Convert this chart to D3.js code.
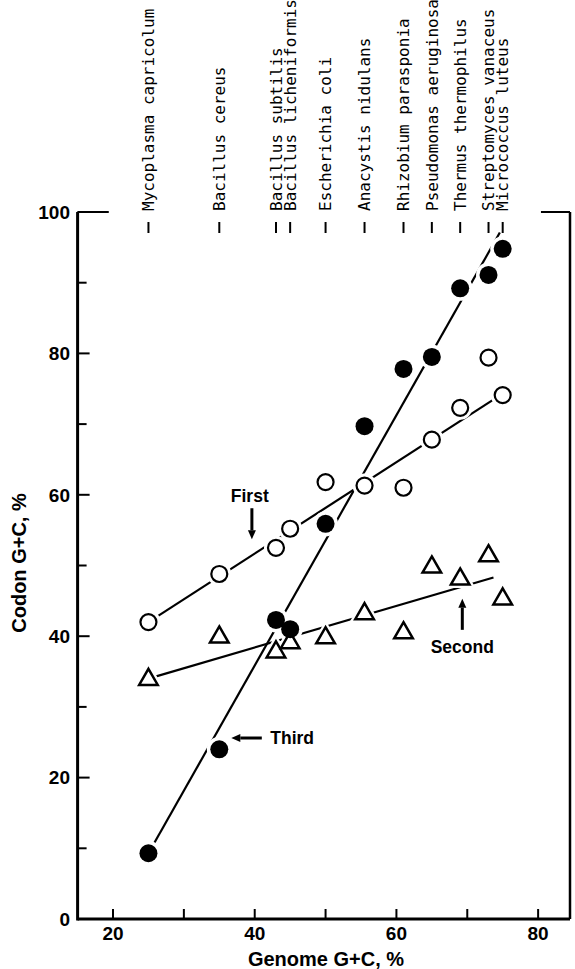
<!DOCTYPE html>
<html lang="en">
<head>
    <meta charset="UTF-8">
    <title>codon-gc</title>
    <script src="https://cdn.jsdelivr.net/npm/d3@7"></script>
    <style>
        body{
            margin: 0;
            background: #fff;
        }
        .species text{
            font-family: "DejaVu Sans Mono", monospace;
            font-size: 16px;
        }
        .lab{
            font-family: "Liberation Sans", Arial, sans-serif;
            font-weight: bold;
        }
    </style>
</head>
<body>
<svg class="graph"></svg>
<script>
    // organisms and their genome G+C (%)
    var species = ["Mycoplasma capricolum", "Bacillus cereus", "Bacillus subtilis", "Bacillus licheniformis",
        "Escherichia coli", "Anacystis nidulans", "Rhizobium parasponia", "Pseudomonas aeruginosa",
        "Thermus thermophilus", "Streptomyces vanaceus", "Micrococcus luteus"];
    var genomeGC = [25, 35, 43, 45, 50, 55.5, 61, 65, 69, 73, 75];

    // codon G+C (%) at each position
    var firstPos  = [42, 48.8, 52.5, 55.2, 61.8, 61.3, 61, 67.8, 72.3, 79.4, 74.1];
    var secondPos = [34, 40, 37.9, 39.2, 39.9, 43.3, 40.6, 49.9, 48.2, 51.5, 45.4];
    var thirdPos  = [9.3, 24, 42.3, 41, 55.9, 69.7, 77.8, 79.5, 89.2, 91.1, 94.8];

    // fitted lines [x, y] end points
    var firstFit  = [[25, 42], [75, 74.3]];
    var secondFit = [[25, 34], [73.7, 48.3]];
    var thirdFit  = [[25, 9.3], [74.6, 97.1]];

    var xTicks = [20, 30, 40, 50, 60, 70, 80];
    var xLabels = [20, 40, 60, 80];
    var yTicks = [0, 10, 20, 30, 40, 50, 60, 70, 80, 90, 100];
    var yLabels = [0, 20, 40, 60, 80, 100];

    var width = 575, height = 969;
    var svg = d3.select('.graph').attr('width', width).attr('height', height);

    var x = d3.scaleLinear().domain([15, 84.5]).range([77.6, 570]);
    var y = d3.scaleLinear().domain([0, 100]).range([919, 212]);

    // frame
    var frame = svg.append('g').attr('stroke', '#000').attr('fill', 'none');
    frame.append('line').attr('x1', x(15)).attr('x2', x(15)).attr('y1', y(100)).attr('y2', y(0) + 1.5).attr('stroke-width', 3);
    frame.append('line').attr('x1', x(15)).attr('x2', x(84.5)).attr('y1', y(0)).attr('y2', y(0)).attr('stroke-width', 3);
    frame.append('line').attr('x1', x(84.5)).attr('x2', x(84.5)).attr('y1', y(100)).attr('y2', y(0)).attr('stroke-width', 2.5);
    frame.append('line').attr('x1', x(15)).attr('x2', x(19.4)).attr('y1', y(100)).attr('y2', y(100)).attr('stroke-width', 2);
    frame.append('line').attr('x1', x(80.4)).attr('x2', x(84.5)).attr('y1', y(100)).attr('y2', y(100)).attr('stroke-width', 2);

    // inward ticks
    frame.selectAll('.xt').data(xTicks).enter().append('line')
        .attr('x1', function (d) { return x(d); }).attr('x2', function (d) { return x(d); })
        .attr('y1', y(0)).attr('y2', y(0) - 10).attr('stroke-width', 2);
    frame.selectAll('.yt').data(yTicks.slice(1)).enter().append('line')
        .attr('x1', x(15)).attr('x2', function (d) { return x(15) + (d % 20 === 0 ? 12 : 9); })
        .attr('y1', function (d) { return y(d); }).attr('y2', function (d) { return y(d); })
        .attr('stroke-width', 2);

    svg.selectAll('.xl').data(xLabels).enter().append('text').attr('class', 'lab')
        .attr('x', function (d) { return x(d); }).attr('y', 940)
        .attr('text-anchor', 'middle').attr('font-size', 19).text(function (d) { return d; });
    svg.selectAll('.yl').data(yLabels).enter().append('text').attr('class', 'lab')
        .attr('x', 70).attr('y', function (d) { return y(d); }).attr('dy', '0.36em')
        .attr('text-anchor', 'end').attr('font-size', 19).text(function (d) { return d; });

    svg.append('text').attr('class', 'lab').attr('x', 326).attr('y', 966)
        .attr('text-anchor', 'middle').attr('font-size', 20).text('Genome G+C, %');
    svg.append('text').attr('class', 'lab')
        .attr('transform', 'translate(19,563) rotate(-90)').attr('dy', '0.36em')
        .attr('text-anchor', 'middle').attr('font-size', 20).text('Codon G+C, %');

    // species names across the top
    var sp = svg.append('g').attr('class', 'species');
    sp.selectAll('line').data(genomeGC).enter().append('line')
        .attr('x1', function (d) { return x(d); }).attr('x2', function (d) { return x(d); })
        .attr('y1', 222).attr('y2', 233).attr('stroke', '#000').attr('stroke-width', 2);
    sp.selectAll('text').data(species).enter().append('text')
        .attr('transform', function (d, i) { return 'translate(' + x(genomeGC[i]) + ',211) rotate(-90)'; })
        .attr('dy', '0.36em')
        .text(function (d) { return d; });

    // fitted lines
    var line = d3.line().x(function (d) { return x(d[0]); }).y(function (d) { return y(d[1]); });
    [firstFit, secondFit, thirdFit].forEach(function (f) {
        svg.append('path').attr('d', line(f)).attr('fill', 'none').attr('stroke', '#000').attr('stroke-width', 2.2);
    });

    // points
    function pts(vals) {
        return vals.map(function (v, i) { return [genomeGC[i], v]; });
    }
    var tri = d3.symbol().type(d3.symbolTriangle).size(150);

    var halo = svg.append('g').attr('fill', '#fff').attr('stroke', '#fff').attr('stroke-width', 7);
    halo.selectAll('.h2').data(pts(secondPos)).enter().append('path')
        .attr('d', tri).attr('transform', function (d) { return 'translate(' + x(d[0]) + ',' + (y(d[1]) + 1) + ')'; });
    halo.selectAll('.h1').data(pts(firstPos)).enter().append('circle')
        .attr('cx', function (d) { return x(d[0]); }).attr('cy', function (d) { return y(d[1]); }).attr('r', 8.5);
    halo.selectAll('.h3').data(pts(thirdPos)).enter().append('circle')
        .attr('cx', function (d) { return x(d[0]); }).attr('cy', function (d) { return y(d[1]); }).attr('r', 9);

    svg.append('g').selectAll('path').data(pts(secondPos)).enter().append('path')
        .attr('d', tri).attr('fill', '#fff').attr('stroke', '#000').attr('stroke-width', 2.5)
        .attr('stroke-linejoin', 'miter')
        .attr('transform', function (d) { return 'translate(' + x(d[0]) + ',' + (y(d[1]) + 1) + ')'; });
    svg.append('g').selectAll('circle').data(pts(firstPos)).enter().append('circle')
        .attr('cx', function (d) { return x(d[0]); }).attr('cy', function (d) { return y(d[1]); })
        .attr('r', 8).attr('fill', '#fff').attr('stroke', '#000').attr('stroke-width', 2.2);
    svg.append('g').selectAll('circle').data(pts(thirdPos)).enter().append('circle')
        .attr('cx', function (d) { return x(d[0]); }).attr('cy', function (d) { return y(d[1]); })
        .attr('r', 9).attr('fill', '#000');

    // annotations with arrows
    function arrow(x1, y1, x2, y2) {
        var X1 = x(x1), Y1 = y(y1), X2 = x(x2), Y2 = y(y2);
        var a = Math.atan2(Y2 - Y1, X2 - X1), L = 9, w = 4;
        var bx = X2 - L * Math.cos(a), by = Y2 - L * Math.sin(a);
        svg.append('line').attr('x1', X1).attr('y1', Y1).attr('x2', bx).attr('y2', by)
            .attr('stroke', '#000').attr('stroke-width', 3);
        svg.append('path').attr('fill', '#000')
            .attr('d', 'M' + X2 + ',' + Y2 + 'L' + (bx + w * Math.sin(a)) + ',' + (by - w * Math.cos(a)) +
                'L' + (bx - w * Math.sin(a)) + ',' + (by + w * Math.cos(a)) + 'Z');
    }
    svg.append('text').attr('class', 'lab').attr('x', x(39.3)).attr('y', y(59))
        .attr('text-anchor', 'middle').attr('font-size', 17.5).text('First');
    arrow(39.6, 58.1, 39.6, 53.7);
    svg.append('text').attr('class', 'lab').attr('x', x(69.3)).attr('y', y(37.6))
        .attr('text-anchor', 'middle').attr('font-size', 17.5).text('Second');
    arrow(69.3, 40.9, 69.3, 45.3);
    svg.append('text').attr('class', 'lab').attr('x', x(42.2)).attr('y', y(24.75))
        .attr('font-size', 17.5).text('Third');
    arrow(41.0, 25.6, 36.7, 25.6);
</script>
</body>
</html>
